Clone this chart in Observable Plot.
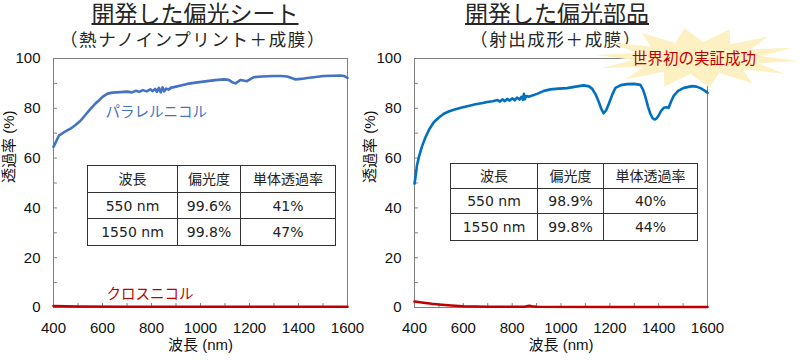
<!DOCTYPE html>
<html><head><meta charset="utf-8">
<script src="https://cdn.jsdelivr.net/npm/d3@7"></script>
<script src="https://cdn.jsdelivr.net/npm/@observablehq/plot@0.6"></script>
<style>
body{margin:0;background:#fff;}
#wrap{position:relative;width:800px;height:360px;overflow:hidden;font-family:"Liberation Sans","Noto Sans CJK JP",sans-serif;}
.abs{position:absolute;}
.title{font-family:"Noto Sans CJK JP",sans-serif;font-size:23px;color:#262626;text-decoration:underline;text-decoration-thickness:1.5px;text-underline-offset:1px;white-space:nowrap;text-align:center;line-height:1;width:400px;}
.sub{font-family:"Noto Sans CJK JP",sans-serif;font-size:17.5px;letter-spacing:1.6px;color:#262626;white-space:nowrap;text-align:center;line-height:1;width:400px;}
table.t{position:absolute;border-collapse:collapse;border:1.6px solid #222;font-family:"DejaVu Sans","Noto Sans CJK JP",sans-serif;font-size:14px;color:#222;background:#fff;table-layout:fixed;}
table.t td{border:1px solid #333;text-align:center;padding:0;line-height:1;}
.burstText{font-family:"Noto Sans CJK JP",sans-serif;font-size:15.5px;color:#c00000;white-space:nowrap;line-height:1;}
svg{overflow:visible;}
</style></head>
<body><div id="wrap"></div>
<script>
// ---- axis ticks ----
const xTicks = [400,500,600,700,800,900,1000,1100,1200,1300,1400,1500,1600];
const xTickLabels = [400,600,800,1000,1200,1400,1600];
const yTicks = [0,10,20,30,40,50,60,70,80,90,100];
const yTickLabels = [0,20,40,60,80,100];

// ---- left panel: 偏光シート, parallel nicol ----
const sheetParNm = [400,410,422,440,469,490,510,530,551,570,585,600,619,640,673,700,720,735,750,765,780,795,805,815,822,830,838,845,852,860,870,880,891,920,946,980,1027,1060,1095,1115,1129,1143,1155,1163,1175,1190,1205,1218,1250,1299,1330,1354,1372,1388,1410,1436,1470,1503,1540,1571,1585,1600];
const sheetParT  = [64.5,66.5,69,70.2,71.8,73.3,75,77.3,79.8,81.8,83.1,84.6,85.8,86.3,86.5,86.7,86.4,87.0,86.6,87.3,86.8,87.6,86.9,87.8,86.6,88.2,86.4,88.4,86.8,87.9,87.5,88.3,88.5,89.2,89.8,90.3,90.9,91.3,91.6,91.4,90.5,90.0,90.8,91.4,91.2,90.9,91.8,92.5,92.8,93,93,92.8,92.2,91.6,91.8,92.2,92.6,93,93.1,93.2,93,92.2];
// cross nicol
const sheetCrossNm = [400,500,700,1000,1300,1600];
const sheetCrossT  = [0.6,0.4,0.3,0.3,0.3,0.3];

// ---- right panel: 偏光部品 ----
const partParNm = [400,405,410,418,430,445,460,479,500,520,540,561,590,616,650,680,698,720,740,750,760,770,780,790,800,810,820,830,838,844,848,852,856,870,902,930,957,990,1025,1060,1093,1115,1128,1142,1155,1165,1175,1185,1196,1210,1223,1245,1271,1300,1325,1336,1346,1356,1366,1375,1383,1392,1400,1410,1421,1432,1441,1450,1462,1480,1503,1537,1555,1571,1590,1600];
const partParT  = [49.7,53,57,60.4,64.5,68.4,71.5,74.4,76.3,77.8,78.7,79.4,80.2,80.8,81.6,82.1,82.5,82.8,83.3,82.7,83.6,82.9,83.8,83.1,84.0,83.2,84.3,83.5,84.6,83.4,85.8,83.6,84.9,84.7,85.8,87.0,87.6,87.9,88.1,88.7,89.2,88.8,87.8,85.5,82.5,79.8,78,79.2,81.8,85.5,88.2,89.3,89.7,89.8,89.4,87.5,84.5,80.8,77.8,76.0,75.5,76.0,77.1,79.0,80.2,80.4,80.2,82.5,85.1,87.0,88.2,88.9,88.7,88.1,87.0,86.2];
const partCrossNm = [400,430,470,500,550,600,700,850,870,880,900,1200,1600];
const partCrossT  = [2.4,2.0,1.5,1.2,0.8,0.5,0.3,0.3,0.7,0.5,0.3,0.2,0.2];

// ---- tables ----
const tableHeader = ["波長","偏光度","単体透過率"];
const sheetTableRows = [["550 nm","99.6%","41%"],["1550 nm","99.8%","47%"]];
const partTableRows  = [["550 nm","98.9%","40%"],["1550 nm","99.8%","44%"]];

// ---- texts ----
const titles = ["開発した偏光シート","開発した偏光部品"];
const subtitles = ["（熱ナノインプリント＋成膜）","（射出成形＋成膜）"];
const parLabel = "パラレルニコル";
const crossLabel = "クロスニコル";
const burstLabel = "世界初の実証成功";
const yTitle = "透過率 (%)";
const xTitle = "波長 (nm)";

const toRows = (nm, t) => nm.map((d, i) => ({nm: d, t: t[i]}));
const jp = "Liberation Sans, Noto Sans CJK JP, sans-serif";

function panel({width, marginLeft, marginRight, par, cross, parColor, labels}) {
  return Plot.plot({
    width, height: 360, marginLeft, marginRight, marginTop: 58, marginBottom: 53,
    x: {domain: [400, 1600], axis: null},
    y: {domain: [0, 100], axis: null},
    style: {fontFamily: jp, background: "transparent", color: "#111", overflow: "visible"},
    marks: [
      Plot.ruleX(xTicks, {x: d => d, y1: 0, y2: 1.6, stroke: "#808080"}),
      Plot.ruleY(yTicks, {y: d => d, x1: 400, x2: 416, stroke: "#808080"}),
      Plot.frame({stroke: "#808080"}),
      Plot.line(cross, {x: "nm", y: "t", stroke: "#c00000", strokeWidth: 2.6}),
      Plot.line(par, {x: "nm", y: "t", stroke: parColor, strokeWidth: 2.6}),
      Plot.text(xTickLabels, {x: d => d, y: 0, text: d => String(d), dy: 21, fontSize: 15, fill: "#111"}),
      Plot.text(yTickLabels, {x: 400, y: d => d, text: d => String(d), textAnchor: "end", dx: -13, fontSize: 15, fill: "#111"}),
      Plot.text([yTitle], {text: d => d, frameAnchor: "left", rotate: -90, dx: -44, fontSize: 15, fill: "#111"}),
      Plot.text([xTitle], {text: d => d, frameAnchor: "bottom", dy: 42, fontSize: 15, fill: "#111"}),
      ...labels
    ]
  });
}

const wrap = document.getElementById("wrap");

const left = panel({
  width: 360, marginLeft: 53, marginRight: 13,
  par: toRows(sheetParNm, sheetParT), cross: toRows(sheetCrossNm, sheetCrossT),
  parColor: "#4472c4",
  labels: [
    Plot.text([parLabel], {text: d => d, x: 612, y: 78.3, textAnchor: "start", fontSize: 14.5, fill: "#4472c4", fontFamily: "Noto Sans CJK JP"}),
    Plot.text([crossLabel], {text: d => d, x: 616, y: 5.2, textAnchor: "start", fontSize: 14.5, fill: "#c00000", fontFamily: "Noto Sans CJK JP"})
  ]
});
left.style.position = "absolute"; left.style.left = "0px"; left.style.top = "0px";
wrap.appendChild(left);

const right = panel({
  width: 440, marginLeft: 54, marginRight: 93,
  par: toRows(partParNm, partParT), cross: toRows(partCrossNm, partCrossT),
  parColor: "#0070c0",
  labels: []
});
right.style.position = "absolute"; right.style.left = "360px"; right.style.top = "0px";
wrap.appendChild(right);

// titles
function addDiv(cls, text, cx, top) {
  const d = document.createElement("div");
  d.className = "abs " + cls; d.textContent = text;
  d.style.left = (cx - 200) + "px"; d.style.top = top + "px";
  wrap.appendChild(d); return d;
}
addDiv("title", titles[0], 195, 1);
addDiv("sub", subtitles[0], 193, 30);
addDiv("title", titles[1], 557, 1);
addDiv("sub", subtitles[1], 556, 30);

// burst (decorative)
const ns = "http://www.w3.org/2000/svg";
const bs = document.createElementNS(ns, "svg");
bs.setAttribute("width", 800); bs.setAttribute("height", 360);
bs.style.position = "absolute"; bs.style.left = "0"; bs.style.top = "0";
const spikes = 14, cx = 697, cy = 58;
const pts = [];
for (let i = 0; i < spikes * 2; i++) {
  const a = Math.PI * i / spikes + 0.1;
  const outer = i % 2 === 0;
  const rx = outer ? 102 : 64, ry = outer ? 30 : 16;
  pts.push([cx + rx * Math.cos(a), cy + ry * Math.sin(a)]);
}
const poly = document.createElementNS(ns, "polygon");
poly.setAttribute("points", pts.map(p => p.join(",")).join(" "));
poly.setAttribute("fill", "#fdf0c2");
bs.appendChild(poly);
wrap.appendChild(bs);
const bt = document.createElement("div");
bt.className = "abs burstText"; bt.textContent = burstLabel;
bt.style.left = "632px"; bt.style.top = "50px";
wrap.appendChild(bt);

// tables
function addTable(rows, left, top, colW, rowH) {
  const t = document.createElement("table");
  t.className = "t";
  t.style.left = left + "px"; t.style.top = top + "px";
  const cg = document.createElement("colgroup");
  colW.forEach(w => { const c = document.createElement("col"); c.style.width = w + "px"; cg.appendChild(c); });
  t.appendChild(cg);
  [tableHeader, ...rows].forEach((r, i) => {
    const tr = document.createElement("tr");
    tr.style.height = rowH[i] + "px";
    r.forEach(v => { const td = document.createElement("td"); td.textContent = v; tr.appendChild(td); });
    t.appendChild(tr);
  });
  wrap.appendChild(t);
}
addTable(sheetTableRows, 87, 165, [90, 63, 95], [27, 26, 27]);
addTable(partTableRows, 450, 163, [87, 66, 94], [25, 25, 27]);
</script>
</body></html>
